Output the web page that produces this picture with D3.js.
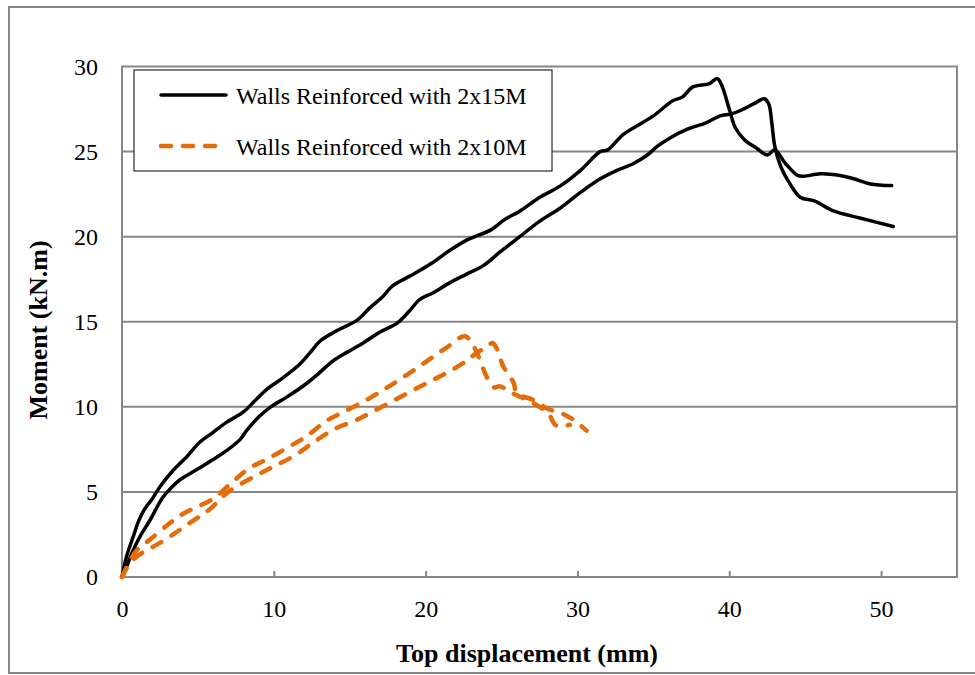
<!DOCTYPE html>
<html>
<head>
<meta charset="utf-8">
<script src="https://cdn.jsdelivr.net/npm/d3@7"></script>
<style>
  body { margin: 0; background: #fff; }
  svg text { font-family: "Liberation Serif", "Times New Roman", serif; fill: #000; }
</style>
</head>
<body>
<div class="canvas"></div>
<script>
// data (displacement mm, moment kN.m)
const wall15A = [[0,0],[0.3,1.2],[0.75,2.4],[1.1,3.3],[1.5,4.0],[2.0,4.6],[2.5,5.3],[3.3,6.2],[4.3,7.1],[5.1,7.9],[6.0,8.5],[6.9,9.1],[8.0,9.7],[8.8,10.4],[9.5,11.0],[10.6,11.7],[11.7,12.5],[12.4,13.2],[13.1,13.9],[14.2,14.5],[15.5,15.1],[16.3,15.8],[17.2,16.5],[17.8,17.1],[19.0,17.7],[20.5,18.5],[21.6,19.2],[22.7,19.8],[24.3,20.4],[25.2,21.0],[26.2,21.5],[27.5,22.3],[28.9,23.0],[30.2,23.9],[31.5,25.0],[32.0,25.1],[33.0,26.0],[33.9,26.5],[35.0,27.1],[36.3,28.0],[36.9,28.2],[37.6,28.8],[38.7,29.0],[39.2,29.3],[39.5,28.9],[40.0,27.5],[40.4,26.4],[41.0,25.7],[41.8,25.2],[42.5,24.8],[43.0,25.1],[43.7,24.3],[44.5,23.6],[44.9,23.55],[46.0,23.7],[47.3,23.6],[48.2,23.4],[49.3,23.1],[50.7,23.0]];
const wall15B = [[0,0],[0.3,0.6],[0.7,1.5],[1.2,2.4],[1.85,3.35],[2.7,4.7],[3.3,5.3],[3.8,5.7],[4.9,6.3],[6.0,6.9],[7.0,7.5],[7.8,8.1],[8.2,8.6],[9.0,9.4],[9.8,10.0],[10.9,10.6],[12.2,11.4],[13.0,12.0],[13.9,12.7],[14.8,13.2],[15.7,13.65],[17.0,14.4],[18.1,14.9],[18.9,15.6],[19.6,16.3],[20.5,16.7],[21.6,17.3],[22.7,17.8],[23.8,18.3],[24.9,19.1],[26.2,20.0],[27.5,20.9],[28.9,21.7],[30.2,22.6],[31.5,23.4],[32.6,23.9],[33.7,24.3],[34.6,24.8],[35.25,25.3],[36.1,25.8],[37.2,26.3],[38.5,26.7],[39.4,27.1],[40.1,27.2],[40.7,27.4],[41.6,27.8],[42.3,28.1],[42.6,27.8],[42.8,26.7],[43.0,25.3],[43.4,24.1],[44.0,23.1],[44.7,22.3],[45.6,22.1],[46.9,21.5],[48.6,21.1],[50.8,20.6]];
const wall10A = [[0,0],[0.5,0.9],[1.0,1.6],[1.85,2.2],[3.2,3.2],[4.0,3.7],[4.9,4.1],[6.0,4.6],[7.3,5.6],[8.4,6.4],[9.5,6.9],[10.9,7.6],[12.2,8.3],[13.5,9.2],[14.6,9.7],[16.1,10.4],[17.4,11.1],[18.8,11.9],[20.1,12.7],[21.4,13.5],[22.6,14.15],[23.2,13.5],[23.6,12.7],[24.0,11.8],[24.5,11.15],[24.9,11.2],[25.7,10.8],[26.7,10.4],[27.5,10.0],[28.1,9.6],[28.6,8.9],[29.5,8.95]];
const wall10B = [[0,0],[0.5,0.8],[1.3,1.4],[2.3,1.9],[3.2,2.4],[4.5,3.2],[5.8,4.0],[7.0,5.0],[8.7,5.9],[10.0,6.5],[11.3,7.1],[12.6,7.9],[13.9,8.65],[15.5,9.25],[17.0,9.95],[18.8,10.8],[20.3,11.5],[21.6,12.1],[22.7,12.7],[23.4,13.2],[24.0,13.5],[24.4,13.75],[24.7,13.4],[25.1,12.4],[25.8,11.4],[26.0,10.8],[27.1,10.4],[28.0,9.9],[29.0,9.6],[29.8,9.2],[30.6,8.6]];

const xTicks = [0, 10, 20, 30, 40, 50];
const yTicks = [0, 5, 10, 15, 20, 25, 30];
const legendLabels = ['Walls Reinforced with 2x15M', 'Walls Reinforced with 2x10M'];
const xTitle = 'Top displacement (mm)';
const yTitle = 'Moment (kN.m)';

const width = 975, height = 675;
const margin = { top: 66.5, right: 18, bottom: 98, left: 122 };
const grey = '#868686';
const orange = '#E46C0A';

const svg = d3.select('.canvas')
    .append('svg')
    .attr('width', width)
    .attr('height', height);

// outer chart border (runs off to the right like the reference)
svg.append('rect')
    .attr('x', 9).attr('y', 7)
    .attr('width', 990).attr('height', 666)
    .attr('fill', 'none')
    .attr('stroke', grey)
    .attr('stroke-width', 2);

// scales
const x = d3.scaleLinear().domain([0, 55]).range([margin.left, width - margin.right]);
const y = d3.scaleLinear().domain([0, 30]).range([height - margin.bottom, margin.top]);

// gridlines
svg.append('g')
    .selectAll('line')
    .data(yTicks.slice(1, -1))
    .enter().append('line')
        .attr('x1', x(0)).attr('x2', x(55))
        .attr('y1', d => y(d)).attr('y2', d => y(d))
        .attr('stroke', grey)
        .attr('stroke-width', 2);

// plot frame
svg.append('rect')
    .attr('x', x(0)).attr('y', y(30))
    .attr('width', x(55) - x(0)).attr('height', y(0) - y(30))
    .attr('fill', 'none')
    .attr('stroke', grey)
    .attr('stroke-width', 2);

// axes
const xAxis = d3.axisBottom(x)
    .tickValues(xTicks)
    .tickSizeInner(-6)
    .tickSizeOuter(0)
    .tickPadding(23);

const yAxis = d3.axisLeft(y)
    .tickValues(yTicks)
    .tickSize(0)
    .tickPadding(24);

const xAxisGroup = svg.append('g')
    .attr('transform', `translate(0, ${y(0)})`)
    .call(xAxis);

const yAxisGroup = svg.append('g')
    .attr('transform', `translate(${x(0)}, 0)`)
    .call(yAxis);

[xAxisGroup, yAxisGroup].forEach(g => {
    g.select('.domain').remove();
    g.selectAll('line').attr('stroke', grey).attr('stroke-width', 2);
    g.selectAll('text')
        .style('font-family', '"Liberation Serif", "Times New Roman", serif')
        .style('font-size', '24px')
        .attr('fill', '#000');
});

// axis titles
svg.append('text')
    .attr('x', 527).attr('y', 662)
    .attr('text-anchor', 'middle')
    .style('font-size', '26px')
    .style('font-weight', 'bold')
    .text(xTitle);

svg.append('text')
    .attr('transform', 'translate(47, 330) rotate(-90)')
    .attr('text-anchor', 'middle')
    .style('font-size', '26px')
    .style('font-weight', 'bold')
    .text(yTitle);

// curves
const line = d3.line()
    .x(d => x(d[0]))
    .y(d => y(d[1]))
    .curve(d3.curveCatmullRom.alpha(0.5));

const series = [
    { data: wall15B, color: '#000', dash: null, w: 3.5 },
    { data: wall15A, color: '#000', dash: null, w: 3.5 },
    { data: wall10B, color: orange, dash: '10,12', w: 4.5 },
    { data: wall10A, color: orange, dash: '10,12', w: 4.5 }
];

series.forEach(s => {
    svg.append('path')
        .datum(s.data)
        .attr('d', line)
        .attr('fill', 'none')
        .attr('stroke', s.color)
        .attr('stroke-width', s.w)
        .attr('stroke-dasharray', s.dash)
        .attr('stroke-linecap', 'round')
        .attr('stroke-linejoin', 'round');
});

// legend
const legend = svg.append('g');

legend.append('rect')
    .attr('x', 134).attr('y', 70)
    .attr('width', 418).attr('height', 101)
    .attr('fill', '#fff')
    .attr('stroke', '#000')
    .attr('stroke-width', 1);

const legendItems = [
    { label: legendLabels[0], color: '#000', dash: null, w: 3.5, cy: 95 },
    { label: legendLabels[1], color: orange, dash: '10,12', w: 4.5, cy: 146 }
];

legendItems.forEach(item => {
    legend.append('line')
        .attr('x1', 161).attr('x2', 226)
        .attr('y1', item.cy).attr('y2', item.cy)
        .attr('stroke', item.color)
        .attr('stroke-width', item.w)
        .attr('stroke-dasharray', item.dash)
        .attr('stroke-linecap', 'round');

    legend.append('text')
        .attr('x', 236).attr('y', item.cy + 9)
        .style('font-size', '24px')
        .text(item.label);
});
</script>
</body>
</html>
